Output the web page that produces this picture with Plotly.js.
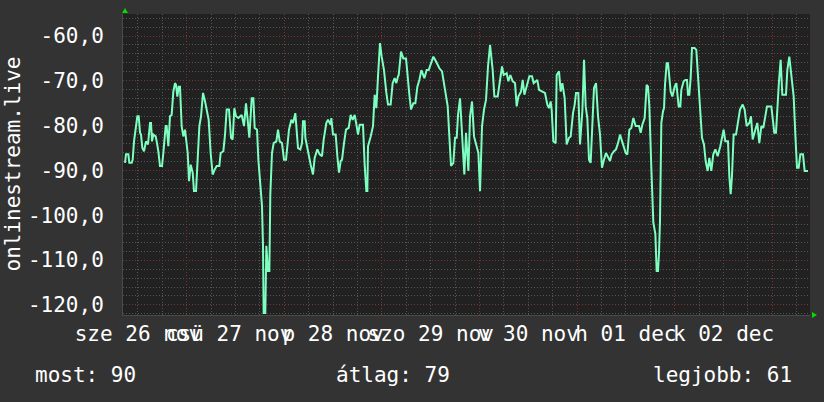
<!DOCTYPE html>
<html>
<head>
<meta charset="utf-8">
<script src="https://cdn.plot.ly/plotly-3.0.1.min.js"></script>
<style>
html,body{margin:0;padding:0;background:#333333;}
#chart{width:824px;height:402px;}
</style>
</head>
<body>
<div id="chart"></div>
<script>
// hours since 2025-11-26 00:00
const hours = [
8.83,9.07,9.65,9.89,10.47,10.71,11.04,11.29,11.86,12.19,12.52,12.76,13.09,13.50,13.75,13.99,14.48,14.98,15.22,15.47,
15.79,16.37,16.61,17.02,17.43,17.93,18.25,18.83,19.07,19.48,19.89,20.30,20.71,21.12,21.37,21.70,22.02,22.35,22.76,23.17,
23.58,23.83,24.24,24.57,24.98,25.47,25.79,26.29,26.70,27.11,27.52,28.01,28.42,28.91,29.40,29.89,30.38,30.88,31.37,32.02,
32.35,33.01,33.42,33.83,34.40,34.89,35.30,35.71,36.12,36.70,37.52,38.09,38.58,38.99,39.40,39.98,40.39,40.71,41.29,41.62,
42.19,42.51,42.76,42.92,43.33,43.58,43.99,44.32,44.56,44.97,45.38,46.04,46.45,46.86,47.43,47.92,48.42,48.74,49.15,49.73,
50.14,50.71,50.96,51.37,51.94,52.35,52.60,53.01,53.17,53.83,54.48,55.05,55.46,56.12,56.69,57.27,57.68,58.33,58.74,59.40,
59.56,59.97,60.63,61.04,61.45,61.86,62.19,62.68,63.17,63.83,64.32,64.81,65.30,65.79,66.12,66.53,67.35,67.76,68.17,68.42,
68.58,69.24,69.81,70.22,70.63,71.04,71.53,71.94,72.51,73.09,73.50,74.15,74.64,75.14,75.55,75.96,
76.13,76.70,77.27,77.93,78.34,78.75,79.16,79.73,80.22,80.72,81.21,81.70,82.44,83.01,83.50,83.99,84.65,85.31,86.13,86.78,
87.52,88.18,88.58,88.99,89.57,89.98,90.39,90.72,91.21,91.70,92.27,92.68,93.26,93.67,94.16,94.65,95.31,95.72,96.13,96.62,
97.11,97.60,98.09,98.59,99.24,99.65,100.47,100.88,101.53,101.94,102.68,103.09,103.58,104.16,104.73,105.14,105.55,106.21,106.62,107.03,
107.68,108.26,108.91,109.32,
110.22,110.63,111.45,112.10,112.68,113.09,113.50,113.74,114.15,114.73,114.97,115.55,115.96,116.37,116.94,117.43,118.01,118.42,118.99,119.40,
119.73,120.30,120.71,121.29,121.70,122.11,122.51,122.92,123.33,123.74,124.15,124.65,125.14,125.63,126.12,126.61,127.10,128.09,128.50,129.07,
129.56,130.06,130.55,131.20,131.94,132.35,132.84,133.33,133.83,134.40,135.22,135.63,136.04,136.61,137.10,137.43,137.76,138.25,138.74,139.24,
139.56,139.89,140.14,140.38,140.71,141.12,141.37,141.61,142.02,142.35,142.76,143.01,143.42,
143.99,144.40,144.97,145.38,145.63,146.20,146.61,147.02,147.26,147.59,147.92,148.25,148.90,149.31,149.72,150.30,150.71,151.20,151.61,152.10,
152.51,153.00,153.49,153.99,154.56,155.21,155.62,156.03,156.44,157.10,157.43,157.76,158.08,158.49,159.07,159.56,160.05,160.71,161.20,161.69,
162.35,162.76,163.17,163.82,164.31,164.80,165.30,165.79,166.28,166.69,167.76,168.49,168.90,169.23,169.64,170.05,170.46,171.36,171.69,172.18,
172.67,173.25,173.66,174.07,174.48,174.89,175.54,175.95,176.77
];
const signal = [
-88.3,-86.4,-86.4,-88.3,-88.3,-87.6,-83.5,-81.6,-77.9,-77.9,-81.6,-82.0,-85.0,-85.7,-84.6,-83.5,-84.2,-79.4,-79.4,-83.5,
-82.0,-82.4,-83.5,-85.7,-89.0,-89.0,-86.1,-80.1,-80.1,-84.6,-77.9,-77.6,-72.4,-70.5,-70.9,-73.5,-71.3,-71.3,-80.1,-82.4,
-80.9,-82.7,-86.1,-92.4,-88.7,-90.5,-94.6,-94.6,-86.1,-80.1,-77.9,-72.7,-74.2,-76.1,-78.7,-86.1,-90.9,-89.8,-89.0,-89.0,
-86.1,-85.7,-82.0,-76.4,-76.4,-82.7,-83.1,-76.1,-77.9,-78.3,-77.6,-80.1,-75.0,-78.7,-82.7,-73.9,-73.9,-80.5,-80.9,-87.6,
-95.3,-97.9,-106.8,-121.8,-121.8,-106.8,-112.4,-112.4,-95.3,-86.1,-83.9,-83.5,-80.9,-83.5,-83.9,-87.6,-87.6,-83.9,-80.9,-78.7,
-79.4,-77.2,-80.1,-85.0,-85.3,-83.9,-79.0,-79.0,-82.7,-86.1,-88.7,-90.9,-87.2,-85.3,-86.4,-86.8,-83.1,-79.4,-78.7,-79.8,
-78.3,-82.0,-82.0,-86.8,-90.5,-87.9,-87.6,-83.9,-80.9,-80.5,-77.6,-78.7,-77.6,-80.1,-82.0,-79.8,-79.8,-88.7,-94.6,-94.6,
-84.6,-82.4,-80.1,-73.1,-76.1,-69.0,-61.6,-64.6,-67.6,-72.7,-75.3,-75.3,-70.5,-69.4,-70.5,-69.0,
-68.7,-63.5,-65.0,-65.0,-70.1,-73.1,-76.4,-75.0,-75.0,-71.3,-69.8,-67.6,-69.4,-67.6,-67.6,-66.1,-64.6,-65.7,-67.2,-67.9,
-72.4,-75.7,-82.4,-89.0,-88.3,-82.7,-82.7,-77.6,-73.9,-82.4,-90.9,-81.6,-90.1,-77.9,-74.6,-82.4,-85.0,-86.1,-94.6,-80.1,
-76.4,-74.2,-66.8,-62.0,-67.6,-73.5,-73.5,-70.9,-66.8,-68.7,-68.3,-70.1,-68.7,-70.1,-70.5,-75.7,-73.5,-72.4,-69.8,-73.1,
-70.9,-69.0,-69.0,-70.5,
-69.8,-72.0,-72.4,-72.7,-75.3,-76.1,-74.6,-76.4,-83.5,-83.9,-68.7,-67.9,-72.4,-70.5,-73.9,-84.2,-82.7,-82.4,-77.2,-75.3,
-72.7,-72.7,-84.2,-76.8,-65.3,-75.7,-78.3,-87.6,-88.3,-79.0,-71.6,-70.5,-77.9,-82.0,-89.4,-87.6,-86.1,-87.9,-86.4,-85.7,
-85.3,-83.9,-82.0,-83.9,-86.1,-86.4,-80.9,-80.5,-78.3,-80.1,-80.1,-81.6,-79.8,-78.3,-70.9,-71.3,-75.7,-89.4,-101.6,-104.2,
-112.4,-112.4,-108.3,-101.3,-79.4,-76.8,-76.1,-70.9,-66.1,-66.1,-70.1,-72.4,-73.5,
-71.3,-70.5,-75.7,-75.7,-72.0,-70.1,-69.8,-69.8,-73.1,-73.1,-69.4,-62.7,-62.7,-63.1,-68.7,-75.7,-82.7,-84.2,-87.9,-90.1,
-87.2,-90.1,-86.4,-85.3,-86.8,-84.6,-82.7,-80.9,-83.5,-83.5,-91.3,-95.3,-91.3,-82.0,-82.0,-78.7,-76.4,-75.3,-76.4,-80.1,
-79.4,-77.9,-83.1,-80.9,-79.4,-83.9,-80.1,-80.5,-77.9,-75.7,-75.7,-81.6,-81.6,-75.3,-70.1,-65.3,-73.1,-73.1,-67.6,-64.6,
-69.0,-73.5,-82.0,-89.4,-89.4,-86.4,-86.4,-90.1,-90.1
];
const dayNoons = ['2025-11-26 12:00:00','2025-11-27 12:00:00','2025-11-28 12:00:00','2025-11-29 12:00:00','2025-11-30 12:00:00','2025-12-01 12:00:00','2025-12-02 12:00:00'];
const dayLabels = ['sze 26 nov','csü 27 nov\u00a0','p 28 nov','szo 29 nov','v 30 nov','h 01 dec','k 02 dec'];
const yTickVals = [-120,-110,-100,-90,-80,-70,-60];
const yTickText = ['-120,0','-110,0','-100,0','-90,0','-80,0','-70,0','-60,0'];
const legendTexts = ['most: 90','átlag: 79','legjobb: 61'];
const yTitle = 'onlinestream.live';

const base = Date.UTC(2025,10,26);
function toDate(h){ return new Date(base + h*3600000).toISOString().replace('T',' ').slice(0,19); }
const xs = hours.map(toDate);
const xRange = ['2025-11-26 08:20:00','2025-12-03 09:16:00'];

const W=824, H=402, L=123, R=14, T=14, B=87;
const pw = W-L-R, ph = H-T-B;
const font = {family:'DejaVu Sans Mono, monospace', size:21, color:'#ffffff'};
const majorGrid = '#7e3434', minorGrid = '#555555';

const data = [
  {x: xs, y: signal, type:'scatter', mode:'lines', line:{color:'#7dffc0', width:2}, hoverinfo:'skip', showlegend:false},
  {x: xRange, y: [null,null], xaxis:'x2', yaxis:'y', type:'scatter', mode:'lines', hoverinfo:'skip', showlegend:false}
];

const legX = [33, 334, 651];
const annotations = legendTexts.map((t,i)=>({
  text:t, xref:'paper', yref:'paper', x:(legX[i]-L)/pw, y:(T+ph-375)/ph,
  xanchor:'left', yanchor:'middle', showarrow:false, font:font
}));
annotations.push({text:yTitle, xref:'paper', yref:'paper', x:(12-L)/pw, y:0.5, textangle:-90,
  xanchor:'center', yanchor:'middle', showarrow:false, font:font});

const layout = {
  width:W, height:H,
  margin:{l:L, r:R, t:T, b:B, pad:0},
  paper_bgcolor:'#333333', plot_bgcolor:'#212121',
  font:font,
  showlegend:false,
  xaxis:{type:'date', range:xRange, tickmode:'linear', tick0:'2025-11-26 00:00:00', dtick:86400000,
    showticklabels:false, ticks:'', showgrid:true, gridcolor:majorGrid, griddash:'1px,2px', gridwidth:1,
    minor:{tickmode:'linear', tick0:'2025-11-26 00:00:00', dtick:21600000, showgrid:true, gridcolor:minorGrid, griddash:'1px,2px', gridwidth:1, ticks:''},
    zeroline:false, showline:true, linecolor:'#4a4a4a', linewidth:1, fixedrange:true},
  xaxis2:{type:'date', range:xRange, overlaying:'x', anchor:'y', side:'bottom', tickmode:'array',
    tickvals:dayNoons, ticktext:dayLabels, tickangle:0, autotickangles:[0], showgrid:false, zeroline:false, ticks:'', tickfont:font,
    ticklabelstandoff:4, showline:false},
  yaxis:{range:[-122.24,-55.09], tickmode:'array', tickvals:yTickVals, ticktext:yTickText, tickfont:font,
    ticks:'', showgrid:true, gridcolor:majorGrid, griddash:'1px,2px', gridwidth:1,
    minor:{tickmode:'linear', tick0:-60, dtick:2, showgrid:true, gridcolor:minorGrid, griddash:'1px,2px', gridwidth:1, ticks:''},
    zeroline:false, showline:true, linecolor:'#4a4a4a', linewidth:1, ticklabelstandoff:14, fixedrange:true},
  annotations:annotations,
  shapes:[
    {type:'path', xref:'paper', yref:'paper', xsizemode:'pixel', ysizemode:'pixel', xanchor:0, yanchor:1,
     path:'M-1,1 L5,1 L2,6 Z', fillcolor:'#00dd00', line:{width:0}},
    {type:'path', xref:'paper', yref:'paper', xsizemode:'pixel', ysizemode:'pixel', xanchor:1, yanchor:0,
     path:'M2,-3 L2,3 L7,0 Z', fillcolor:'#00dd00', line:{width:0}}
  ]
};
Plotly.newPlot('chart', data, layout, {staticPlot:true, displayModeBar:false});
</script>
</body>
</html>
